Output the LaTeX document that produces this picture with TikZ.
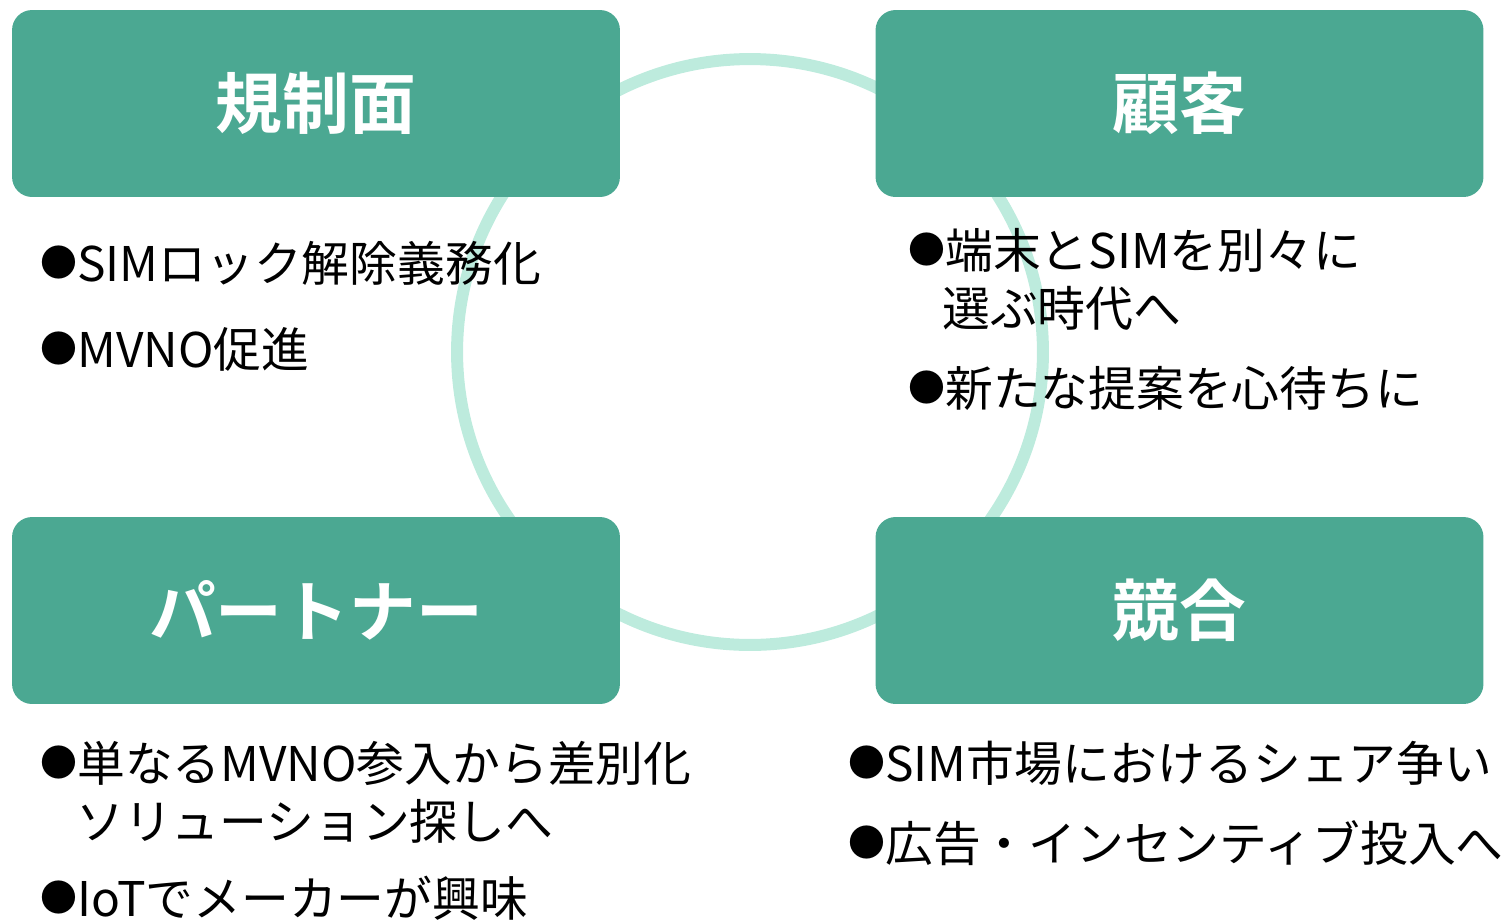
\documentclass[tikz,border=0pt]{standalone}
\usepackage{fontspec}
\setmainfont{Noto Sans CJK JP}[BoldFont={Noto Sans CJK JP Bold}]
\usetikzlibrary{positioning}
\definecolor{boxgreen}{HTML}{4BA892}
\definecolor{ringmint}{HTML}{BDEBDD}
\newcommand{\dotmark}{\raisebox{0.1em}{\fontsize{21}{21}\selectfont ●}}

\begin{document}
\begin{tikzpicture}[x=0.02cm,y=-0.02cm,
  box/.style={fill=boxgreen,rounded corners=0.4cm,minimum width=12.16cm,minimum height=3.74cm,
    text=white,font=\fontsize{38}{42}\selectfont\bfseries},
  bullet/.style={anchor=west,inner sep=0pt,font=\fontsize{27.2}{30}\selectfont}]
\useasboundingbox (0,0) rectangle (1511,920);
\draw[ringmint,line width=0.24cm] (750,352) circle (5.86cm);
\node [box] (rule) at (316,103.5) {規制面};
\node [box] (cust) at (1179.5,103.5) {顧客};
\node [box] (part) at (316,610.5) {パートナー};
\node [box] (comp) at (1179.5,610.5) {競合};
% points under each box
\node [bullet] (rule1) at (40,263) {\dotmark SIMロック解除義務化};
\node [bullet] (rule2) at (40,349) {\dotmark MVNO促進};
\node [bullet] (cust1) at (908,250) {\dotmark 端末とSIMを別々に};
\node [bullet] (cust1b) at (942,308) {選ぶ時代へ};
\node [bullet] (cust2) at (908,388) {\dotmark 新たな提案を心待ちに};
\node [bullet] (part1) at (40,763) {\dotmark 単なるMVNO参入から差別化};
\node [bullet] (part1b) at (76,821) {ソリューション探しへ};
\node [bullet] (part2) at (40,898) {\dotmark IoTでメーカーが興味};
\node [bullet] (comp1) at (848,763) {\dotmark SIM市場におけるシェア争い};
\node [bullet] (comp2) at (848,843) {\dotmark 広告・インセンティブ投入へ};
\end{tikzpicture}
\end{document}
